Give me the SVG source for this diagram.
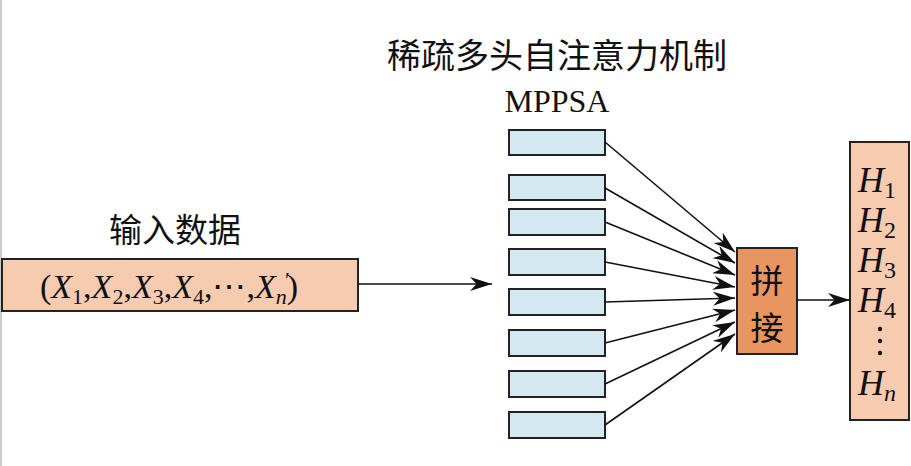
<svg xmlns="http://www.w3.org/2000/svg" width="911" height="466" viewBox="0 0 911 466">
<style>
.t{font-family:"Noto Sans CJK SC","Liberation Sans",sans-serif;fill:#111;font-weight:400}
.m{font-family:"Liberation Serif",serif;fill:#111}
.b{fill:#d4e8f2;stroke:#222;stroke-width:2}
.o{fill:#f7cbb0;stroke:#222;stroke-width:2}
.c{stroke:#111;stroke-width:1.6;fill:none;marker-end:url(#a)}
</style>
<defs><marker id="a" viewBox="0 0 10 10" refX="10" refY="5" markerWidth="22" markerHeight="14" orient="auto" markerUnits="userSpaceOnUse" preserveAspectRatio="none"><path d="M0,0 L10,5 L0,10 L3,5 Z" fill="#111"/></marker></defs>
<rect width="911" height="466" fill="#fff"/>
<line x1="1" y1="0" x2="1" y2="466" stroke="#ccc" stroke-width="2"/>
<text class="t" x="557" y="68" font-size="34" text-anchor="middle">稀疏多头自注意力机制</text>
<text class="m" x="557" y="112" font-size="32" text-anchor="middle">MPPSA</text>
<g id="input">
<text class="t" x="175" y="242" font-size="33" text-anchor="middle">输入数据</text>
<rect class="o" x="2" y="259" width="356" height="52"/>
<text class="m" x="40" y="298" font-size="34">(<tspan font-style="italic">X</tspan><tspan font-size="22" dy="6">1</tspan><tspan dy="-6">,</tspan><tspan font-style="italic">X</tspan><tspan font-size="22" dy="6">2</tspan><tspan dy="-6">,</tspan><tspan font-style="italic">X</tspan><tspan font-size="22" dy="6">3</tspan><tspan dy="-6">,</tspan><tspan font-style="italic">X</tspan><tspan font-size="22" dy="6">4</tspan><tspan dy="-6">,⋯,</tspan><tspan font-style="italic">X</tspan><tspan font-size="22" font-style="italic" dy="6">n</tspan><tspan dy="-6">)</tspan></text>
<text class="m" x="285" y="287" font-size="22">′</text>
</g>
<g id="heads">
<rect class="b" x="509" y="130" width="96" height="25"/>
<rect class="b" x="509" y="175" width="96" height="25"/>
<rect class="b" x="509" y="209" width="96" height="26"/>
<rect class="b" x="509" y="249" width="96" height="26"/>
<rect class="b" x="509" y="289" width="96" height="26"/>
<rect class="b" x="509" y="330" width="96" height="26"/>
<rect class="b" x="509" y="371" width="96" height="26"/>
<rect class="b" x="509" y="412" width="96" height="26"/>
</g>
<g id="concat">
<rect x="737" y="248" width="60" height="106" fill="#e8955f" stroke="#222" stroke-width="2"/>
<text class="t" x="767" y="293" font-size="33" text-anchor="middle">拼</text>
<text class="t" x="767" y="340" font-size="33" text-anchor="middle">接</text>
</g>
<g id="output">
<rect class="o" x="850" y="142" width="59" height="278"/>
<g class="m" font-size="36" font-style="italic">
<text x="858" y="192">H<tspan font-size="24" font-style="normal" dy="6">1</tspan></text>
<text x="858" y="232">H<tspan font-size="24" font-style="normal" dy="6">2</tspan></text>
<text x="858" y="272">H<tspan font-size="24" font-style="normal" dy="6">3</tspan></text>
<text x="858" y="312">H<tspan font-size="24" font-style="normal" dy="6">4</tspan></text>
<text x="858" y="395">H<tspan font-size="24" dy="6">n</tspan></text>
</g>
<circle cx="880" cy="329" r="2.2" fill="#111"/><circle cx="880" cy="341" r="2.2" fill="#111"/><circle cx="880" cy="353" r="2.2" fill="#111"/>
</g>
<g id="connectors">
<line class="c" x1="358" y1="284" x2="492" y2="284"/>
<line class="c" x1="605" y1="142" x2="735" y2="252"/>
<line class="c" x1="605" y1="188" x2="735" y2="263"/>
<line class="c" x1="605" y1="222" x2="735" y2="275"/>
<line class="c" x1="605" y1="262" x2="735" y2="287"/>
<line class="c" x1="605" y1="302" x2="735" y2="298"/>
<line class="c" x1="605" y1="343" x2="735" y2="310"/>
<line class="c" x1="605" y1="384" x2="735" y2="322"/>
<line class="c" x1="605" y1="425" x2="735" y2="334"/>
<line class="c" x1="797" y1="300" x2="850" y2="300"/>
</g>
</svg>
